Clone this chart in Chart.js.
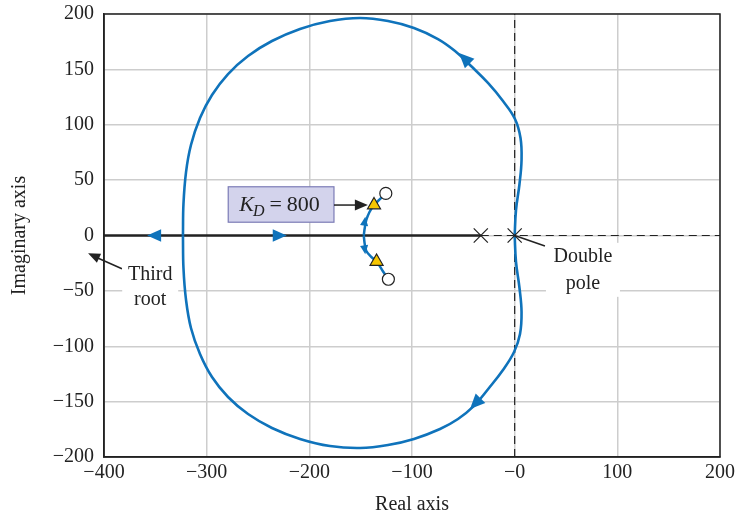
<!DOCTYPE html>
<html>
<head>
<meta charset="utf-8">
<script src="https://cdn.jsdelivr.net/npm/chart.js@4/dist/chart.umd.min.js"></script>
<style>
  body { margin: 0; background: #fff; }
  canvas { display: block; }
</style>
</head>
<body>
<canvas id="chart-locus" width="737" height="517"></canvas>
<script>
// root locus data
const loopUpperX = [0, 1.3, 4.7, 6.7, 5.7, 0.3, -11.4, -26, -42.5, -58.1, -74.7, -98.1, -123.4, -150.6, -179.9, -209.1, -236.4, -259.7, -279.2, -294.8, -306.5, -315.3, -320.1, -322.6, -323.1];
const loopUpperY = [0, 23, 46.5, 68.2, 88, 105.2, 121.4, 137.7, 153, 166.6, 177.4, 187.4, 193.7, 196.4, 193.7, 186.5, 175.6, 162.1, 145.8, 126.9, 106.1, 81.7, 57.3, 28.4, 0];
const loopLowerX = [0, 1.3, 4.7, 6.7, 5.2, -0.6, -11.4, -25, -39.6, -55.2, -72.7, -98.1, -123.4, -150.6, -179.9, -209.1, -236.4, -259.7, -279.2, -294.8, -306.5, -315.3, -320.1, -322.6, -323.1];
const loopLowerY = [0, -23.9, -47.4, -69.1, -89, -105.2, -121.4, -137.7, -153.9, -165.7, -174.7, -183.7, -189.2, -191.9, -190.1, -183.7, -173.8, -161.2, -145.8, -127.8, -107, -83.5, -58.2, -29.3, 0];
const branchUpperX = [-147, -146, -144.5, -141.5, -137, -131, -125.5];
const branchUpperY = [0, 7, 14, 21, 27.5, 33, 38];
const branchLowerX = [-147, -146, -144.5, -140, -134.5, -128.5, -123];
const branchLowerY = [0, -8, -14, -19, -23.5, -32, -39.5];
const realAxisX = [-400, -33];
const poleX = [-33, 0];
const poleY = [0, 0];
const zeroX = [-125.5, -123];
const zeroY = [38, -39.5];
const kdRootX = [-137, -134.5];
const kdRootY = [27.5, -23.5];

// direction arrows: [fromX, fromY, tipX, tipY, size]
const blueArrows = [
    [-42.5, 154, -54.2, 164.8, 15],
    [-31.8, -145.6, -43.5, -156.7, 15],
    [-348, 0, -358, 0, 14],
    [-232, 0, -222, 0, 14],
    [-146.5, 10, -145.5, 17, 9],
    [-146.5, -10, -145.5, -17, 9]
];

const blue = '#0f73bb';
const serif = '"Liberation Serif", "DejaVu Serif", serif';

const pts = (xs, ys) => xs.map((x, i) => ({ x: x, y: ys[i] }));
const minus = v => v < 0 ? '\u2212' + (-v) : (v === 0 ? null : '' + v);

function arrowHead(ctx, from, tip, len, halfW, color) {
    const a = Math.atan2(tip[1] - from[1], tip[0] - from[0]);
    ctx.save();
    ctx.translate(tip[0], tip[1]);
    ctx.rotate(a);
    ctx.beginPath();
    ctx.moveTo(0, 0);
    ctx.lineTo(-len, -halfW);
    ctx.lineTo(-len, halfW);
    ctx.closePath();
    ctx.fillStyle = color;
    ctx.fill();
    ctx.restore();
}

const annotations = {
    id: 'annotations',
    afterDatasetsDraw(chart) {
        const ctx = chart.ctx;
        const sx = chart.scales.x, sy = chart.scales.y;
        const p = (x, y) => [sx.getPixelForValue(x), sy.getPixelForValue(y)];
        const area = chart.chartArea;

        blueArrows.forEach(a => arrowHead(ctx, p(a[0], a[1]), p(a[2], a[3]), a[4], a[4] * 0.45, blue));

        ctx.save();
        // frame
        ctx.strokeStyle = '#222';
        ctx.lineWidth = 1.5;
        ctx.strokeRect(area.left, area.top, area.right - area.left, area.bottom - area.top);

        // K_D box
        const b1 = p(-279, 44), b2 = p(-176, 12);
        ctx.fillStyle = '#d3d3ec';
        ctx.strokeStyle = '#7c7cb6';
        ctx.lineWidth = 1.2;
        ctx.fillRect(b1[0], b1[1], b2[0] - b1[0], b2[1] - b1[1]);
        ctx.strokeRect(b1[0], b1[1], b2[0] - b1[0], b2[1] - b1[1]);
        const cy = (b1[1] + b2[1]) / 2 + 7;
        let tx = b1[0] + 11;
        ctx.fillStyle = '#222';
        ctx.textAlign = 'left';
        ctx.textBaseline = 'alphabetic';
        ctx.font = 'italic 22px ' + serif;
        ctx.fillText('K', tx, cy);
        tx += ctx.measureText('K').width - 1;
        ctx.font = 'italic 16px ' + serif;
        ctx.fillText('D', tx, cy + 5);
        tx += ctx.measureText('D').width + 5;
        ctx.font = '22px ' + serif;
        ctx.fillText('=', tx, cy);
        tx += ctx.measureText('=').width + 5;
        ctx.fillText('800', tx, cy);

        // K_D arrow
        const k1 = p(-176, 27.5), k2 = p(-143, 27.5);
        ctx.strokeStyle = '#222';
        ctx.lineWidth = 1.5;
        ctx.beginPath();
        ctx.moveTo(k1[0], k1[1]);
        ctx.lineTo(k2[0] - 10, k2[1]);
        ctx.stroke();
        arrowHead(ctx, k1, k2, 13, 5.5, '#222');

        // Third root label
        const t1 = p(-382.5, -30), t2 = p(-415.5, -16);
        ctx.beginPath();
        ctx.moveTo(t1[0], t1[1]);
        ctx.lineTo(t2[0] + 8, t2[1] + 4);
        ctx.stroke();
        arrowHead(ctx, t1, t2, 12, 5, '#222');
        const tl = p(-355, -46);
        ctx.fillStyle = '#fff';
        ctx.fillRect(tl[0] - 28, tl[1] - 25, 56, 50);
        ctx.fillStyle = '#222';
        ctx.font = '20px ' + serif;
        ctx.textAlign = 'center';
        ctx.textBaseline = 'middle';
        ctx.fillText('Third', tl[0], tl[1] - 12);
        ctx.fillText('root', tl[0], tl[1] + 13);

        // Double pole label
        const d0 = p(0, 0), d1 = p(29.5, -9.5);
        ctx.beginPath();
        ctx.moveTo(d0[0], d0[1]);
        ctx.lineTo(d1[0], d1[1]);
        ctx.stroke();
        const dl = p(66.5, -31);
        ctx.fillStyle = '#fff';
        ctx.fillRect(dl[0] - 37, dl[1] - 27, 74, 54);
        ctx.fillStyle = '#222';
        ctx.fillText('Double', dl[0], dl[1] - 13);
        ctx.fillText('pole', dl[0], dl[1] + 14);
        ctx.restore();
    }
};

const tickFont = { family: serif, size: 20 };

new Chart(document.getElementById('chart-locus'), {
    type: 'scatter',
    data: {
        datasets: [
            { data: pts(kdRootX, kdRootY), pointStyle: 'triangle', pointRadius: 7.5, backgroundColor: '#f7c600', borderColor: '#222', borderWidth: 1.2 },
            { data: pts(zeroX, zeroY), pointStyle: 'circle', pointRadius: 6, backgroundColor: '#fff', borderColor: '#222', borderWidth: 1.2 },
            { data: pts(poleX, poleY), pointStyle: 'crossRot', pointRadius: 10, borderColor: '#222', borderWidth: 1.2 },
            { data: pts(branchUpperX, branchUpperY), showLine: true, tension: 0.3, borderColor: blue, borderWidth: 2.5, pointRadius: 0 },
            { data: pts(branchLowerX, branchLowerY), showLine: true, tension: 0.3, borderColor: blue, borderWidth: 2.5, pointRadius: 0 },
            { data: pts(loopUpperX, loopUpperY), showLine: true, tension: 0.4, borderColor: blue, borderWidth: 2.6, pointRadius: 0 },
            { data: pts(loopLowerX, loopLowerY), showLine: true, tension: 0.4, borderColor: blue, borderWidth: 2.6, pointRadius: 0 },
            { data: pts(realAxisX, [0, 0]), showLine: true, borderColor: '#222', borderWidth: 2.5, pointRadius: 0 },
            { data: pts([0, 0], [-200, 200]), showLine: true, borderColor: '#222', borderWidth: 1.2, borderDash: [8, 5], pointRadius: 0 },
            { data: pts([-33, 200], [0, 0]), showLine: true, borderColor: '#222', borderWidth: 1.2, borderDash: [8, 5], pointRadius: 0 }
        ]
    },
    options: {
        responsive: false,
        animation: false,
        layout: { padding: { left: 0, right: 17, top: 14, bottom: 0 } },
        plugins: {
            legend: { display: false },
            tooltip: { enabled: false }
        },
        scales: {
            x: {
                min: -400,
                max: 200,
                ticks: {
                    stepSize: 100,
                    padding: 4,
                    color: '#222',
                    font: tickFont,
                    callback: v => v === 0 ? '\u22120' : minus(v)
                },
                grid: { color: '#cdcdcd', lineWidth: 1.5, drawTicks: false },
                border: { color: '#222', width: 1.5 },
                title: { display: true, text: 'Real axis', color: '#222', font: { family: serif, size: 20 }, padding: { top: 6, bottom: 0 } },
                afterFit(scale) {
                    scale.height = 60;
                    scale.paddingLeft = 0;
                    scale.paddingRight = 0;
                }
            },
            y: {
                min: -200,
                max: 200,
                ticks: {
                    stepSize: 50,
                    padding: 10,
                    color: '#222',
                    font: tickFont,
                    callback: v => v === 0 ? '0' : minus(v)
                },
                grid: { color: '#cdcdcd', lineWidth: 1.5, drawTicks: false },
                border: { color: '#222', width: 1.5 },
                title: { display: true, text: 'Imaginary axis', color: '#222', font: { family: serif, size: 20 }, padding: { top: 8, bottom: 0 } },
                afterFit(scale) {
                    scale.width = 104;
                    scale.paddingTop = 0;
                    scale.paddingBottom = 0;
                }
            }
        }
    },
    plugins: [annotations]
});
</script>
</body>
</html>
